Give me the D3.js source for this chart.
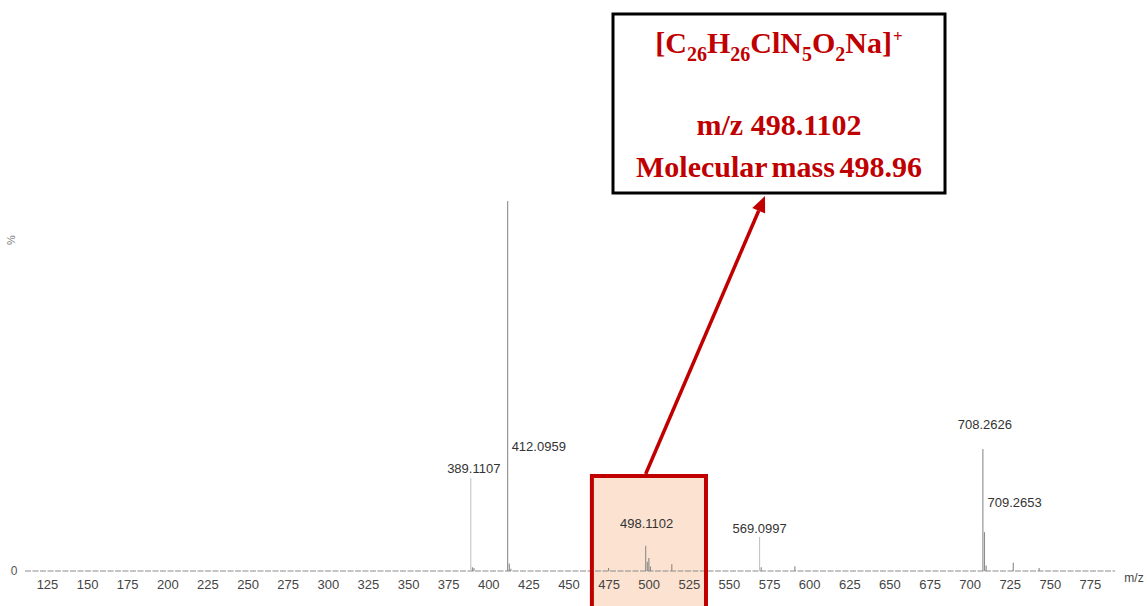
<!DOCTYPE html>
<html>
<head>
<meta charset="utf-8">
<script src="https://cdn.jsdelivr.net/npm/d3@7/dist/d3.min.js"></script>
<style>
  html, body { margin: 0; padding: 0; background: #fff; }
  svg { display: block; }
</style>
</head>
<body>
<svg id="chart" width="1148" height="606"></svg>
<script>
// Mass spectrum (ESI+), relative intensity in %
const labeledMz = [389.1107, 412.0959, 498.1102, 569.0997, 708.2626, 709.2653];
const labeledIntensity = [25.1, 100, 6.8, 9.2, 33.0, 10.5];

// smaller unlabeled peaks (isotopes, minor ions)
const minorMz = [390.1, 391.1, 413.1, 414.1, 475.0, 499.1, 500.1, 501.1, 514.4, 570.1, 591.1, 710.3, 727.2, 743.3];
const minorIntensity = [1.0, 0.8, 2.0, 0.6, 0.8, 2.5, 3.5, 1.2, 1.8, 1.0, 1.3, 1.5, 2.2, 0.8];

const tickValues = [125, 150, 175, 200, 225, 250, 275, 300, 325, 350, 375, 400, 425,
                    450, 475, 500, 525, 550, 575, 600, 625, 650, 675, 700, 725, 750, 775];

const highlightRange = [464.6, 535.7];
const highlightedPeak = 498.1102;

const svg = d3.select("#chart");
const sansFont = "'Liberation Sans', Arial, sans-serif";
const serifFont = "'Liberation Serif', 'Times New Roman', serif";
const red = "#c00000";

const x = d3.scaleLinear().domain([111.3, 790.6]).range([25, 1115]);
const y = d3.scaleLinear().domain([0, 100]).range([571, 201]);

// highlight band fill (drawn under the spectrum)
const hx0 = x(highlightRange[0]), hx1 = x(highlightRange[1]);
const hTop = 476;
svg.append("rect")
  .attr("x", hx0).attr("y", hTop)
  .attr("width", hx1 - hx0).attr("height", 606 - hTop + 10)
  .attr("fill", "#f4b183").attr("fill-opacity", 0.37);

// baseline
svg.append("line")
  .attr("x1", x.range()[0]).attr("x2", x.range()[1])
  .attr("y1", y(0)).attr("y2", y(0))
  .attr("stroke", "#8a8a8a").attr("stroke-width", 1)
  .attr("stroke-dasharray", "6,1.5");

// axis labels
const axis = d3.axisBottom(x).tickValues(tickValues).tickSize(0).tickPadding(9).tickFormat(d3.format("d"));
const gAxis = svg.append("g").attr("transform", `translate(0,${y(0)})`).call(axis);
gAxis.select(".domain").remove();
gAxis.selectAll("text")
  .attr("font-family", sansFont).attr("font-size", 13).attr("fill", "#444");

svg.append("text").attr("x", 14).attr("y", y(0) + 4)
  .attr("text-anchor", "middle").attr("font-family", sansFont).attr("font-size", 12)
  .attr("fill", "#555").text("0");
svg.append("text").attr("x", 1134).attr("y", 582)
  .attr("text-anchor", "middle").attr("font-family", sansFont).attr("font-size", 12)
  .attr("fill", "#444").text("m/z");
svg.append("text").attr("transform", "translate(15,240) rotate(-90)")
  .attr("text-anchor", "middle").attr("font-family", sansFont).attr("font-size", 11)
  .attr("fill", "#777").text("%");

// spectrum sticks
const minor = minorMz.map((m, i) => ({ mz: m, v: minorIntensity[i] }));
const labeled = labeledMz.map((m, i) => ({ mz: m, v: labeledIntensity[i] }));
// fainter trace for the weaker labelled ions
const faint = new Set(["389.1107", "569.0997"]);

svg.append("g").selectAll("line").data(minor).join("line")
  .attr("x1", d => x(d.mz)).attr("x2", d => x(d.mz))
  .attr("y1", y(0)).attr("y2", d => y(d.v))
  .attr("stroke", "#888").attr("stroke-width", 1.1);

svg.append("g").selectAll("line").data(labeled).join("line")
  .attr("x1", d => x(d.mz)).attr("x2", d => x(d.mz))
  .attr("y1", y(0)).attr("y2", d => y(d.v))
  .attr("stroke", d => faint.has(d.mz.toFixed(4)) ? "#c4c4c4" : "#8c8c8c")
  .attr("stroke-width", 1.1);

// peak labels: placement relative to each stick
const placement = {
  "389.1107": { anchor: "middle", dx: 3, dy: -5 },
  "412.0959": { anchor: "start", dx: 4, dy: 250 },
  "498.1102": { anchor: "middle", dx: 1, dy: -18 },
  "569.0997": { anchor: "middle", dx: 0, dy: -4 },
  "708.2626": { anchor: "middle", dx: 2, dy: -20 },
  "709.2653": { anchor: "start", dx: 3, dy: -25 }
};
svg.append("g").selectAll("text").data(labeled).join("text")
  .attr("x", d => x(d.mz) + placement[d.mz.toFixed(4)].dx)
  .attr("y", d => y(d.v) + placement[d.mz.toFixed(4)].dy)
  .attr("text-anchor", d => placement[d.mz.toFixed(4)].anchor)
  .attr("font-family", sansFont).attr("font-size", 13).attr("fill", "#333")
  .text(d => d.mz.toFixed(4));

// highlight band border
svg.append("rect")
  .attr("x", hx0).attr("y", hTop)
  .attr("width", hx1 - hx0).attr("height", 606 - hTop + 10)
  .attr("fill", "none").attr("stroke", red).attr("stroke-width", 4);

// annotation box
const box = { x: 613, y: 14, w: 332, h: 179 };
svg.append("rect")
  .attr("x", box.x).attr("y", box.y).attr("width", box.w).attr("height", box.h)
  .attr("fill", "#fff").attr("stroke", "#000").attr("stroke-width", 3);

// arrow from the highlighted peak to the annotation box
const ax0 = x(highlightedPeak), ay0 = hTop - 2;
const ax1 = 765, ay1 = box.y + box.h + 3;
const ang = Math.atan2(ay1 - ay0, ax1 - ax0);
const headLen = 16, headW = 7;
const bx = ax1 - headLen * Math.cos(ang), by = ay1 - headLen * Math.sin(ang);
svg.append("line")
  .attr("x1", ax0).attr("y1", ay0).attr("x2", bx).attr("y2", by)
  .attr("stroke", red).attr("stroke-width", 3.5);
svg.append("path")
  .attr("d", `M${ax1},${ay1} L${bx + headW * Math.sin(ang)},${by - headW * Math.cos(ang)} L${bx - headW * Math.sin(ang)},${by + headW * Math.cos(ang)} Z`)
  .attr("fill", red);

// annotation text
const cx = box.x + box.w / 2;
const formula = svg.append("text")
  .attr("x", cx).attr("y", 53).attr("text-anchor", "middle")
  .attr("font-family", serifFont).attr("font-size", 30).attr("font-weight", "bold")
  .attr("fill", red);
const parts = [
  ["[C", 0], ["26", 1], ["H", 0], ["26", 1], ["ClN", 0], ["5", 1],
  ["O", 0], ["2", 1], ["Na]", 0], ["+", 2]
];
let shift = 0;
parts.forEach(([t, kind]) => {
  const target = kind === 1 ? 8 : kind === 2 ? -11 : 0;
  formula.append("tspan")
    .attr("dy", target - shift)
    .attr("dx", kind === 2 ? 1 : 0)
    .attr("font-size", kind === 0 ? 30 : kind === 1 ? 20 : 17)
    .text(t);
  shift = target;
});

svg.append("text").attr("x", cx).attr("y", 135).attr("text-anchor", "middle")
  .attr("font-family", serifFont).attr("font-size", 30).attr("font-weight", "bold")
  .attr("fill", red).text("m/z 498.1102");
svg.append("text").attr("x", cx).attr("y", 177).attr("text-anchor", "middle")
  .attr("font-family", serifFont).attr("font-size", 30).attr("font-weight", "bold")
  .attr("fill", red).attr("word-spacing", -3).text("Molecular mass 498.96");
</script>
</body>
</html>
